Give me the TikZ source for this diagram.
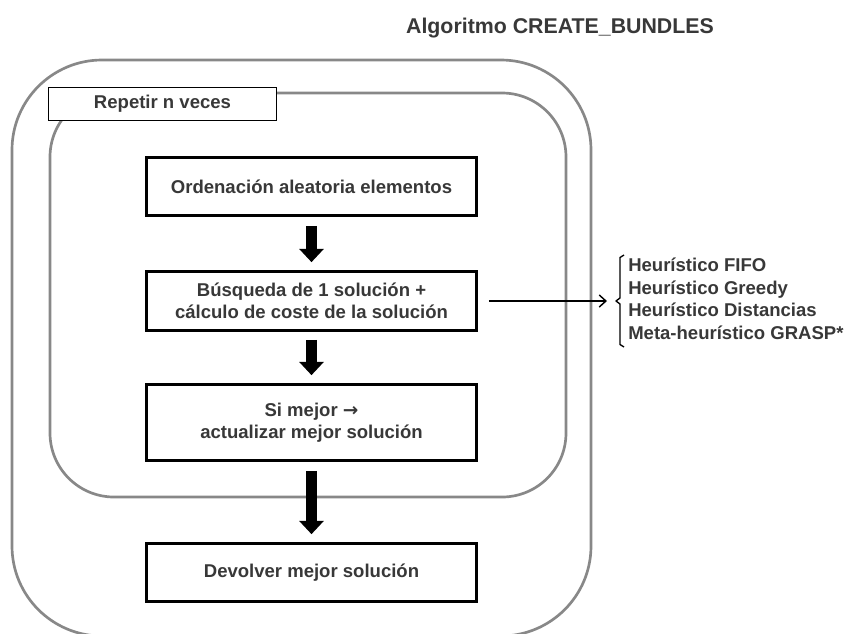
\documentclass[tikz,border=0pt]{standalone}
\usepackage{fontspec}
\setmainfont{Liberation Sans}[BoldFont={Liberation Sans Bold}]
\newfontfamily\arrowfont{DejaVu Sans}
\usetikzlibrary{arrows.meta,calc}
\definecolor{framegray}{HTML}{888888}
\definecolor{txt}{HTML}{383838}
\begin{document}
\begin{tikzpicture}[x=0.75pt,y=-0.75pt,
  every node/.style={font=\fontsize{13.9}{16.5}\selectfont\bfseries, text=txt},
  stepbox/.style={draw=black, line width=2pt, minimum width=247.5pt, align=center, inner sep=0pt},
  frame/.style={draw=framegray, line width=2pt},
  bigarrow/.style={line width=8.5pt, -{Triangle[width=18pt,length=10pt]}},
  thinarrow/.style={line width=1.1pt, -{Straight Barb[length=5pt,width=9pt]}}]
\clip (0,0) rectangle (845,633);
\fill[white] (0,0) rectangle (845,633);
% frames
\draw[frame, rounded corners=67.5pt] (12,60) rectangle (591,636);
\draw[frame, rounded corners=48pt] (50,93) rectangle (566,497);
\node[draw=black, line width=1pt, fill=white, minimum width=171pt, minimum height=25pt, inner sep=0pt] (rep) at (162.5,104) {Repetir n veces};
% title
\node[font=\fontsize{16}{18}\selectfont\bfseries] (title) at (560,28) {Algoritmo CREATE\_BUNDLES};
% steps
\node[stepbox, minimum height=43.5pt] (b1) at (311.5,186.5) {Ordenación aleatoria elementos};
\node[stepbox, minimum height=44.25pt] (b2) at (311.5,301) {Búsqueda de 1 solución +\\cálculo de coste de la solución};
\node[stepbox, minimum height=57pt] (b3) at (311.5,422.5) {Si mejor {\arrowfont\bfseries →}\\actualizar mejor solución};
\node[stepbox, minimum height=43.5pt] (b4) at (311.5,572.5) {Devolver mejor solución};
% thick arrows
\draw[bigarrow] ($(b1.south)+(0,9)$) -- ($(b2.north)+(0,-8)$);
\draw[bigarrow] ($(b2.south)+(0,8)$) -- ($(b3.north)+(0,-8)$);
\draw[bigarrow] ($(b3.south)+(0,9)$) -- ($(b4.north)+(0,-8)$);
% side list
\coordinate (brk) at (607,301);
\draw[thinarrow] ($(b2.east)+(11,0)$) -- (brk);
\draw[line width=1pt, line join=round] (624,255) -- (620,257.5) -- (620,298) -- (616,301) -- (620,304) -- (620,344.5) -- (624,347);
\node[anchor=west, align=left, inner sep=0pt, font=\fontsize{13.9}{16.9}\selectfont\bfseries] (list) at (628,299)
  {Heurístico FIFO\\Heurístico Greedy\\Heurístico Distancias\\Meta-heurístico GRASP*};
\end{tikzpicture}
\end{document}
